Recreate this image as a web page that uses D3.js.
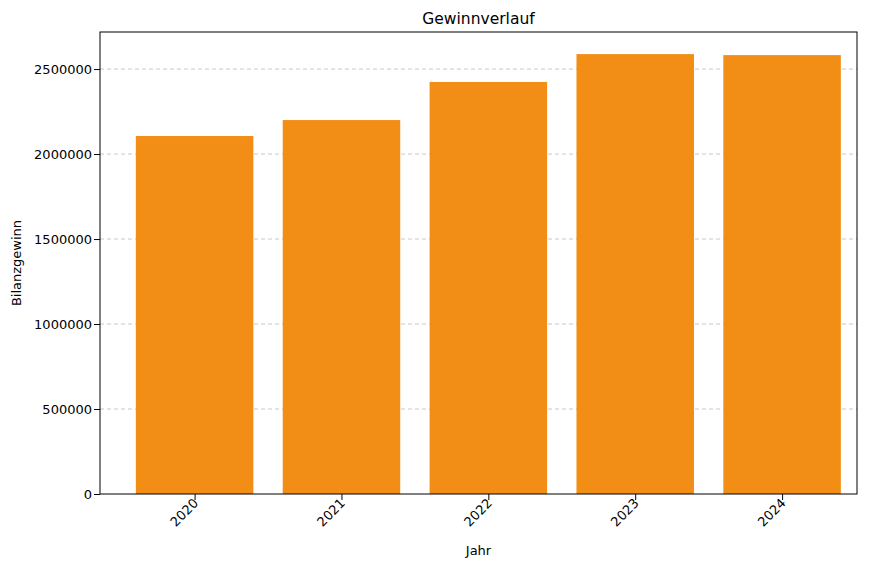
<!DOCTYPE html>
<html><head><meta charset="utf-8">
<script src="https://cdn.jsdelivr.net/npm/d3@7"></script>
<style>body{margin:0;background:#fff}text{font-family:"DejaVu Sans",sans-serif}</style>
</head><body><svg id="c" width="885" height="568"></svg>
<script>
const years = ['2020', '2021', '2022', '2023', '2024'];
const gewinn = [2106000, 2200000, 2424000, 2588000, 2582000];
const yTicks = [0, 500000, 1000000, 1500000, 2000000, 2500000];

const m = { l: 100, r: 857, t: 32, b: 494 };
const svg = d3.select('#c');
const x = d3.scaleLinear().domain([-0.644, 4.51]).range([m.l, m.r]);
const y = d3.scaleLinear().domain([0, 2718000]).range([m.b, m.t]);
const bw = x(0.4) - x(-0.4);

// grid
svg.append('g').selectAll('line').data(yTicks.slice(1)).join('line')
  .attr('x1', m.l).attr('x2', m.r).attr('y1', d => y(d)).attr('y2', d => y(d))
  .style('stroke', '#c8c8c8').style('stroke-dasharray', '4,3');

svg.append('g').selectAll('rect').data(gewinn).join('rect')
  .attr('x', (d, i) => x(i) - bw / 2).attr('width', bw)
  .attr('y', d => y(d)).attr('height', d => y(0) - y(d))
  .attr('fill', '#f28e16');

const yAxis = svg.append('g').attr('transform', `translate(${m.l},0)`)
  .call(d3.axisLeft(y).tickValues(yTicks).tickFormat(d3.format('d')).tickSizeOuter(0));
const xAxis = svg.append('g').attr('transform', `translate(0,${m.b})`)
  .call(d3.axisBottom(x).tickValues(d3.range(years.length)).tickFormat(i => years[i]).tickSizeOuter(0));
svg.selectAll('.domain').remove();
svg.selectAll('.tick text').style('font-size', '13px').attr('fill', '#000');
yAxis.selectAll('.tick text').attr('x', -8);
xAxis.selectAll('.tick text')
  .attr('text-anchor', 'end').attr('dy', 0).attr('y', 0)
  .attr('transform', 'translate(4,10) rotate(-45)');

svg.append('rect').attr('x', m.l).attr('y', m.t).attr('width', m.r - m.l).attr('height', m.b - m.t)
  .attr('fill', 'none').attr('stroke', '#000');

svg.append('text').attr('x', (m.l + m.r) / 2).attr('y', 24).attr('text-anchor', 'middle')
  .style('font-size', '15.5px').text('Gewinnverlauf');
svg.append('text').attr('x', (m.l + m.r) / 2).attr('y', 555).attr('text-anchor', 'middle')
  .style('font-size', '13px').text('Jahr');
svg.append('text').attr('transform', `translate(21,${(m.t + m.b) / 2}) rotate(-90)`)
  .attr('text-anchor', 'middle').style('font-size', '13px').text('Bilanzgewinn');
</script></body></html>
